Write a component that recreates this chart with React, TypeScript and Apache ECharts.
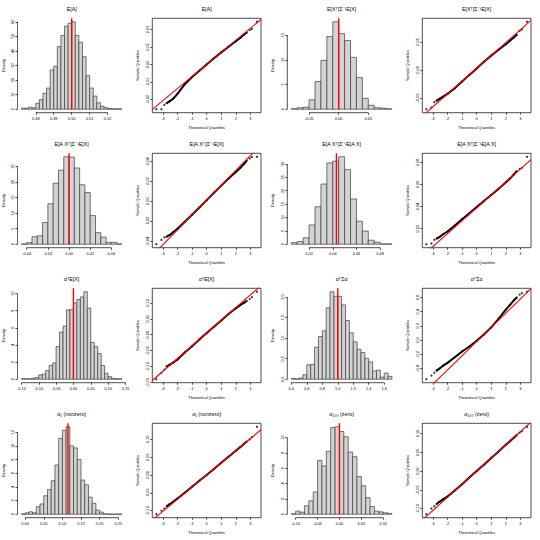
import React, { useEffect, useRef } from "react";
import * as echarts from "echarts";

const FONT = "'Liberation Sans', Arial, Helvetica, sans-serif";

// ---------------- Histograms ----------------
const h1Title = "E[A]";
const h1BinStart = 0.472;
const h1BinWidth = 0.002;
const h1Density = [0.7, 0.7, 1.4, 1.0, 4.0, 6.6, 11.0, 14.5, 27.0, 29.5, 43.0, 50.6, 57.0, 59.0, 60.0, 50.6, 46.0, 36.0, 23.0, 14.5, 9.0, 4.4, 2.0, 1.1, 0.5, 0.3, 0.3, 0.2];
const h1XTicks = [0.48, 0.49, 0.5, 0.51, 0.52];
const h1YTicks = [0, 10, 20, 30, 40, 50, 60];
const h1Ref = 0.5;

const h3Title = "E[X\u1D40]\u03A3\u207B\u00B9E[X]";
const h3BinStart = -0.08;
const h3BinWidth = 0.01;
const h3Density = [0.1, 0.3, 0.4, 1.9, 5.6, 9.9, 14.7, 17.7, 15.3, 13.9, 10.5, 6.4, 2.2, 0.8, 0.3, 0.2, 0.07];
const h3XTicks = [-0.05, 0, 0.05];
const h3YTicks = [0, 5, 10, 15];
const h3Ref = 0;

const h5Title = "E[A X\u1D40]\u03A3\u207B\u00B9E[X]";
const h5BinStart = -0.045;
const h5BinWidth = 0.005;
const h5Density = [0.1, 0.5, 2.4, 2.7, 7.0, 13.0, 19.6, 23.8, 28.1, 28.0, 24.5, 19.1, 16.6, 9.2, 3.7, 2.3, 0.6, 0.6, 0.1];
const h5XTicks = [-0.04, -0.02, 0, 0.02, 0.04];
const h5YTicks = [0, 5, 10, 15, 20, 25];
const h5Ref = 0;

const h7Title = "E[A X\u1D40]\u03A3\u207B\u00B9E[A X]";
const h7BinStart = 0.005;
const h7BinWidth = 0.005;
const h7Density = [0.6, 1.0, 2.4, 7.2, 14.0, 22.5, 30.4, 31.1, 32.7, 27.9, 16.9, 8.6, 4.9, 1.5, 0.75, 0.1, 0.1];
const h7XTicks = [0.02, 0.04, 0.06, 0.08];
const h7YTicks = [0, 5, 10, 15, 20, 25, 30];
const h7Ref = 0.0431;

const h9Title = "\u03B1\u1D40E[X]";
const h9BinStart = -0.15;
const h9BinWidth = 0.01;
const h9Density = [0.05, 0.05, 0.05, 0.1, 0.2, 0.5, 0.6, 1.0, 1.6, 1.9, 3.8, 5.5, 6.2, 8.1, 8.1, 8.9, 9.3, 9.6, 10.2, 8.3, 4.3, 3.8, 3.0, 1.6, 0.7, 0.3, 0.1, 0.05, 0.05];
const h9XTicks = [-0.15, -0.1, -0.05, 0, 0.05, 0.1, 0.15];
const h9YTicks = [0, 2, 4, 6, 8, 10];
const h9Ref = 0;

const h11Title = "\u03B1\u1D40\u03A3\u03B1";
const h11BinStart = 0.4;
const h11BinWidth = 0.05;
const h11Density = [0.02, 0.01, 0.03, 0.11, 0.35, 0.36, 0.78, 1.04, 1.18, 1.74, 2.13, 2.02, 2.02, 1.81, 1.43, 1.13, 0.91, 0.73, 0.65, 0.51, 0.42, 0.2, 0.22, 0.05, 0.15, 0.07];
const h11XTicks = [0.4, 0.6, 0.8, 1.0, 1.2, 1.4, 1.6];
const h11YTicks = [0, 0.5, 1.0, 1.5, 2.0];
const h11Ref = 1.0;

const h13Title = "\u03B1\u2081 (nonzero)";
const h13BinStart = -0.01;
const h13BinWidth = 0.01;
const h13Density = [0.05, 0.2, 0.35, 0.2, 1.1, 1.5, 2.7, 3.6, 4.9, 7.2, 11.1, 12.3, 12.8, 10.0, 9.7, 8.0, 5.0, 4.3, 2.5, 1.6, 0.6, 0.3, 0.05, 0.02, 0.02, 0.02, 0.02];
const h13XTicks = [0, 0.05, 0.1, 0.15, 0.2, 0.25];
const h13YTicks = [0, 2, 4, 6, 8, 10, 12];
const h13Ref = 0.115;

const h15Title = "\u03B1\u2081\u2080\u2080 (zero)";
const h15BinStart = -0.11;
const h15BinWidth = 0.01;
const h15Density = [0.05, 0.4, 0.26, 1.1, 1.75, 2.9, 7.0, 6.3, 8.2, 11.3, 11.4, 10.8, 10.1, 8.1, 7.5, 4.9, 3.7, 2.15, 1.0, 0.4, 0.3, 0.18, 0.1];
const h15XTicks = [-0.1, -0.05, 0, 0.05, 0.1];
const h15YTicks = [0, 2, 4, 6, 8, 10];
const h15Ref = 0;

// ---------------- Normal Q-Q plots ----------------
const qqTheoretical = [-3.45, -3.1, -2.9, -2.75, -2.55, -2.3, -2.0, -1.5, -1.0, -0.5, 0, 0.5, 1.0, 1.5, 2.0, 2.3, 2.55, 2.75, 2.95, 3.1, 3.45];
const qqXTicks = [-3, -2, -1, 0, 1, 2, 3];

const q2Sample = [-0.0256, -0.0256, -0.0231, -0.0222, -0.0211, -0.0196, -0.0168, -0.0113, -0.0072, -0.0036, 0.0, 0.0035, 0.0069, 0.0101, 0.0133, 0.0152, 0.017, 0.0183, 0.0197, 0.0203, 0.0244];
const q2Line = [0.0, 0.0069];
const q2YTicks = [-0.02, -0.01, 0, 0.01, 0.02];

const q4Sample = [-0.0705, -0.0675, -0.058, -0.0554, -0.052, -0.048, -0.043, -0.033, -0.021, -0.009, 0.0025, 0.0145, 0.0255, 0.036, 0.046, 0.0525, 0.058, 0.063, 0.07, 0.0723, 0.0861];
const q4Line = [0.0028, 0.023];
const q4YTicks = [-0.05, 0, 0.05];

const q6Sample = [-0.0429, -0.0386, -0.0361, -0.0354, -0.0339, -0.031, -0.0275, -0.0205, -0.0135, -0.0063, 0.001, 0.0083, 0.0155, 0.0225, 0.029, 0.033, 0.037, 0.0405, 0.0425, 0.044, 0.0442];
const q6Line = [0.001, 0.0148];
const q6YTicks = [-0.04, -0.02, 0, 0.02, 0.04];

const q8Sample = [0.006, 0.0067, 0.01, 0.011, 0.0125, 0.015, 0.0175, 0.023, 0.0285, 0.034, 0.0395, 0.045, 0.0505, 0.056, 0.062, 0.0655, 0.069, 0.072, 0.074, 0.075, 0.085];
const q8Line = [0.0389, 0.01168];
const q8YTicks = [0.02, 0.04, 0.06, 0.08];

const q10Sample = [-0.14, -0.12, -0.11, -0.1, -0.095, -0.088, -0.078, -0.056, -0.036, -0.015, 0.005, 0.025, 0.045, 0.065, 0.083, 0.093, 0.1, 0.106, 0.112, 0.118, 0.135];
const q10Line = [0.005, 0.04];
const q10YTicks = [-0.15, -0.1, -0.05, 0, 0.05, 0.1];

const q12Sample = [-0.55, -0.5, -0.46, -0.43, -0.4, -0.36, -0.32, -0.24, -0.16, -0.09, -0.01, 0.08, 0.18, 0.3, 0.43, 0.5, 0.56, 0.6, 0.64, 0.66, 0.68];
const q12Line = [-0.02, 0.2];
const q12YTicks = [-0.4, -0.2, 0, 0.2, 0.4, 0.6];

const q14Sample = [-0.11, -0.1, -0.094, -0.088, -0.082, -0.075, -0.066, -0.05, -0.033, -0.016, 0.0, 0.017, 0.034, 0.051, 0.068, 0.078, 0.087, 0.094, 0.1, 0.106, 0.135];
const q14Line = [0.0, 0.034];
const q14YTicks = [-0.1, -0.05, 0, 0.05, 0.1];

const q16Sample = [-0.115, -0.1, -0.094, -0.088, -0.082, -0.075, -0.068, -0.052, -0.035, -0.017, 0.0, 0.017, 0.035, 0.052, 0.07, 0.08, 0.089, 0.096, 0.102, 0.106, 0.118];
const q16Line = [0.0, 0.035];
const q16YTicks = [-0.1, -0.05, 0, 0.05, 0.1];

// ---------------- layout ----------------
const CELL = 135;
const PL = 17.3, PR = 126, PT = 18.3, PB = 112.7;
const LABEL_SIZE = 3.9;
const TITLE_SIZE = 5.3;

type HistSpec = { title: string; row: number; col: number; start: number; width: number; dens: number[]; xTicks: number[]; yTicks: number[]; ref: number; xDec: number; yDec: number };
type QQSpec = { title: string; row: number; col: number; sample: number[]; line: number[]; yTicks: number[]; yDec: number };

const histPanels: HistSpec[] = [
  { title: h1Title, row: 0, col: 0, start: h1BinStart, width: h1BinWidth, dens: h1Density, xTicks: h1XTicks, yTicks: h1YTicks, ref: h1Ref, xDec: 2, yDec: 0 },
  { title: h3Title, row: 0, col: 2, start: h3BinStart, width: h3BinWidth, dens: h3Density, xTicks: h3XTicks, yTicks: h3YTicks, ref: h3Ref, xDec: 2, yDec: 0 },
  { title: h5Title, row: 1, col: 0, start: h5BinStart, width: h5BinWidth, dens: h5Density, xTicks: h5XTicks, yTicks: h5YTicks, ref: h5Ref, xDec: 2, yDec: 0 },
  { title: h7Title, row: 1, col: 2, start: h7BinStart, width: h7BinWidth, dens: h7Density, xTicks: h7XTicks, yTicks: h7YTicks, ref: h7Ref, xDec: 2, yDec: 0 },
  { title: h9Title, row: 2, col: 0, start: h9BinStart, width: h9BinWidth, dens: h9Density, xTicks: h9XTicks, yTicks: h9YTicks, ref: h9Ref, xDec: 2, yDec: 0 },
  { title: h11Title, row: 2, col: 2, start: h11BinStart, width: h11BinWidth, dens: h11Density, xTicks: h11XTicks, yTicks: h11YTicks, ref: h11Ref, xDec: 1, yDec: 1 },
  { title: h13Title, row: 3, col: 0, start: h13BinStart, width: h13BinWidth, dens: h13Density, xTicks: h13XTicks, yTicks: h13YTicks, ref: h13Ref, xDec: 2, yDec: 0 },
  { title: h15Title, row: 3, col: 2, start: h15BinStart, width: h15BinWidth, dens: h15Density, xTicks: h15XTicks, yTicks: h15YTicks, ref: h15Ref, xDec: 2, yDec: 0 },
];

const qqPanels: QQSpec[] = [
  { title: h1Title, row: 0, col: 1, sample: q2Sample, line: q2Line, yTicks: q2YTicks, yDec: 2 },
  { title: h3Title, row: 0, col: 3, sample: q4Sample, line: q4Line, yTicks: q4YTicks, yDec: 2 },
  { title: h5Title, row: 1, col: 1, sample: q6Sample, line: q6Line, yTicks: q6YTicks, yDec: 2 },
  { title: h7Title, row: 1, col: 3, sample: q8Sample, line: q8Line, yTicks: q8YTicks, yDec: 2 },
  { title: h9Title, row: 2, col: 1, sample: q10Sample, line: q10Line, yTicks: q10YTicks, yDec: 2 },
  { title: h11Title, row: 2, col: 3, sample: q12Sample, line: q12Line, yTicks: q12YTicks, yDec: 1 },
  { title: h13Title, row: 3, col: 1, sample: q14Sample, line: q14Line, yTicks: q14YTicks, yDec: 2 },
  { title: h15Title, row: 3, col: 3, sample: q16Sample, line: q16Line, yTicks: q16YTicks, yDec: 2 },
];

const fmt = (d: number) => (v: number) => {
  const s = Number(v).toFixed(d);
  return /^-0(\.0*)?$/.test(s) ? s.slice(1) : s;
};

const labelStyle = (ticks: number[], d: number, rotate: number, margin: number) => ({
  customValues: ticks,
  formatter: fmt(d),
  fontSize: LABEL_SIZE,
  fontFamily: FONT,
  color: "#000",
  margin,
  rotate,
});
const tickStyle = (ticks: number[]) => ({
  show: true,
  customValues: ticks,
  length: 2,
  lineStyle: { color: "#000", width: 0.7 },
});
const hiddenLine = { show: false, onZero: false };
const nameStyle = { fontSize: LABEL_SIZE, fontFamily: FONT, color: "#000" };

function buildOption() {
  const grid: any[] = [];
  const xAxis: any[] = [];
  const yAxis: any[] = [];
  const series: any[] = [];
  const graphic: any[] = [];

  const addTitle = (text: string, row: number, col: number) => {
    graphic.push({
      type: "text",
      x: col * CELL + (PL + PR) / 2,
      y: row * CELL + 9,
      style: { text, fontSize: TITLE_SIZE, fontFamily: FONT, fill: "#000", align: "center", verticalAlign: "middle" },
    });
  };

  const renderBar = (_p: any, api: any) => {
    const p0 = api.coord([api.value(0), 0]);
    const p1 = api.coord([api.value(1), api.value(2)]);
    return {
      type: "rect",
      shape: { x: p0[0], y: p1[1], width: p1[0] - p0[0], height: p0[1] - p1[1] },
      style: { fill: "#d3d3d3", stroke: "#3c3c3c", lineWidth: 0.7 },
    };
  };

  histPanels.forEach((h) => {
    const i = grid.length;
    grid.push({ left: h.col * CELL + PL, top: h.row * CELL + PT, width: PR - PL, height: PB - PT, show: false });
    const b0 = h.start;
    const bn = h.start + h.dens.length * h.width;
    const r = bn - b0;
    const m = Math.max(...h.dens);
    const xmin = b0 - 0.04 * r, xmax = bn + 0.04 * r;
    const ymin = -0.04 * m, ymax = 1.04 * m;
    xAxis.push({
      type: "value", gridIndex: i, min: xmin, max: xmax,
      axisLine: hiddenLine, splitLine: { show: false },
      axisTick: tickStyle(h.xTicks), axisLabel: labelStyle(h.xTicks, h.xDec, 0, 3.3),
    });
    yAxis.push({
      type: "value", gridIndex: i, min: ymin, max: ymax,
      axisLine: hiddenLine, splitLine: { show: false },
      axisTick: tickStyle(h.yTicks), axisLabel: labelStyle(h.yTicks, h.yDec, 90, 3),
      name: "Density", nameLocation: "middle", nameGap: 12.4, nameTextStyle: nameStyle,
    });
    series.push({
      type: "custom", xAxisIndex: i, yAxisIndex: i, clip: false, silent: true,
      renderItem: renderBar,
      data: h.dens.map((d, k) => [b0 + k * h.width, b0 + (k + 1) * h.width, d]),
      encode: { x: [0, 1], y: 2 },
    });
    // axis lines spanning the tick range (R style)
    series.push({
      type: "line", xAxisIndex: i, yAxisIndex: i, symbol: "none", silent: true, clip: false,
      data: [[h.xTicks[0], ymin], [h.xTicks[h.xTicks.length - 1], ymin]],
      lineStyle: { color: "#000", width: 0.7 },
    });
    series.push({
      type: "line", xAxisIndex: i, yAxisIndex: i, symbol: "none", silent: true, clip: false,
      data: [[xmin, h.yTicks[0]], [xmin, h.yTicks[h.yTicks.length - 1]]],
      lineStyle: { color: "#000", width: 0.7 },
    });
    // reference line
    series.push({
      type: "line", xAxisIndex: i, yAxisIndex: i, symbol: "none", silent: true, z: 5,
      data: [[h.ref, 0], [h.ref, ymax]],
      lineStyle: { color: "#ff0000", width: 1.4 },
    });
    addTitle(h.title, h.row, h.col);
  });

  qqPanels.forEach((q) => {
    const i = grid.length;
    grid.push({
      left: q.col * CELL + PL, top: q.row * CELL + PT, width: PR - PL, height: PB - PT,
      show: true, borderColor: "#000", borderWidth: 0.7, backgroundColor: "transparent",
    });
    const tx = qqTheoretical;
    const txMin = Math.min(...tx), txMax = Math.max(...tx);
    const syMin = Math.min(...q.sample), syMax = Math.max(...q.sample);
    const xr = txMax - txMin, yr = syMax - syMin;
    const xmin = txMin - 0.04 * xr, xmax = txMax + 0.04 * xr;
    const ymin = syMin - 0.04 * yr, ymax = syMax + 0.04 * yr;
    xAxis.push({
      type: "value", gridIndex: i, min: xmin, max: xmax,
      axisLine: hiddenLine, splitLine: { show: false },
      axisTick: tickStyle(qqXTicks), axisLabel: labelStyle(qqXTicks, 0, 0, 3.3),
      name: "Theoretical Quantiles", nameLocation: "middle", nameGap: 13, nameTextStyle: nameStyle,
    });
    yAxis.push({
      type: "value", gridIndex: i, min: ymin, max: ymax,
      axisLine: hiddenLine, splitLine: { show: false },
      axisTick: tickStyle(q.yTicks), axisLabel: labelStyle(q.yTicks, q.yDec, 90, 3),
      name: "Sample Quantiles", nameLocation: "middle", nameGap: 12.4, nameTextStyle: nameStyle,
    });
    const pts = tx.map((t, k) => [t, q.sample[k]]);
    series.push({
      type: "line", xAxisIndex: i, yAxisIndex: i, symbol: "none", silent: true,
      data: pts.filter((p) => Math.abs(p[0]) <= 2.8),
      lineStyle: { color: "#000", width: 2 },
    });
    series.push({
      type: "scatter", xAxisIndex: i, yAxisIndex: i, silent: true,
      data: pts, symbol: "circle", symbolSize: 2.2,
      itemStyle: { color: "#000" },
    });
    series.push({
      type: "line", xAxisIndex: i, yAxisIndex: i, symbol: "none", silent: true, z: 5,
      data: [[xmin, q.line[0] + q.line[1] * xmin], [xmax, q.line[0] + q.line[1] * xmax]],
      lineStyle: { color: "#ff0000", width: 1.1 },
    });
    addTitle(q.title, q.row, q.col);
  });

  return { animation: false, backgroundColor: "#fff", grid, xAxis, yAxis, series, graphic };
}

export default function App() {
  const ref = useRef<HTMLDivElement>(null);
  useEffect(() => {
    if (!ref.current) return;
    const chart = echarts.init(ref.current, undefined, { renderer: "svg" });
    chart.setOption(buildOption() as any);
    return () => chart.dispose();
  }, []);
  return <div ref={ref} style={{ position: "absolute", left: 0, top: 0, width: 540, height: 540 }} />;
}
